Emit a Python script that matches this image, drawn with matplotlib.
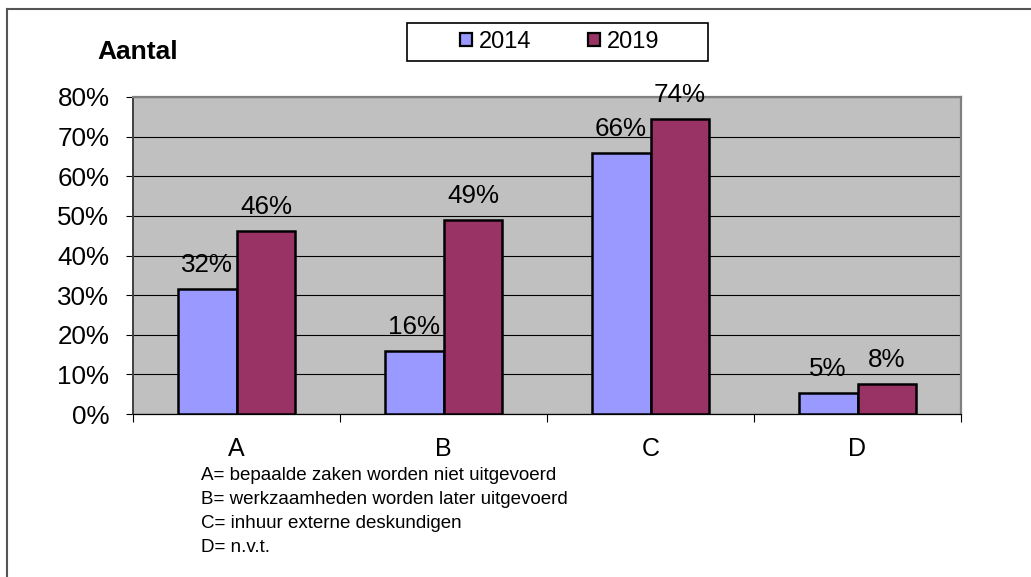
import matplotlib
matplotlib.use("Agg")
import matplotlib.pyplot as plt
from matplotlib.patches import Rectangle
from matplotlib.lines import Line2D
from matplotlib.ticker import FixedLocator, FuncFormatter

plt.rcParams['font.family'] = ['Liberation Sans', 'DejaVu Sans']

categories = ["A", "B", "C", "D"]
series_names = ["2014", "2019"]
values_2014 = [31.6, 15.9, 65.9, 5.3]
values_2019 = [46.2, 49.0, 74.5, 7.6]
labels_2014 = ["32%", "16%", "66%", "5%"]
labels_2019 = ["46%", "49%", "74%", "8%"]
yticks = [0, 10, 20, 30, 40, 50, 60, 70, 80]
footnotes = [
    "A= bepaalde zaken worden niet uitgevoerd",
    "B= werkzaamheden worden later uitgevoerd",
    "C= inhuur externe deskundigen",
    "D= n.v.t.",
]
title = "Aantal"

W, H = 1031, 577
fig = plt.figure(figsize=(W / 100, H / 100), dpi=100)
fig.patch.set_facecolor("white")

ax = fig.add_axes([133 / W, 1 - 414 / H, (961 - 133) / W, (414 - 97) / H])
ax.set_facecolor("#C0C0C0")

c2014 = "#9999FF"
c2019 = "#993366"
bw = 0.285
xs = list(range(len(categories)))
b1 = ax.bar([x - bw / 2 for x in xs], values_2014, width=bw, color=c2014,
            edgecolor="black", linewidth=1.8, zorder=3)
b2 = ax.bar([x + bw / 2 for x in xs], values_2019, width=bw, color=c2019,
            edgecolor="black", linewidth=1.8, zorder=3)

for bars, labs in ((b1, labels_2014), (b2, labels_2019)):
    for rect, lab in zip(bars, labs):
        ax.annotate(lab, (rect.get_x() + rect.get_width() / 2, rect.get_height()),
                    xytext=(0, 12.3), textcoords="offset points",
                    ha="center", va="baseline", fontsize=18.7, color="black",
                    annotation_clip=False, zorder=5)

ax.set_xlim(-0.5, len(categories) - 0.5)
ax.set_ylim(0, 80)

ax.yaxis.set_major_locator(FixedLocator(yticks))
ax.yaxis.set_major_formatter(FuncFormatter(lambda v, p: f"{int(v)}%"))
ax.grid(axis="y", color="black", linewidth=0.8, zorder=1)
ax.tick_params(axis="y", length=5, width=0.8, direction="out", pad=12,
               labelsize=18.7, colors="black")

bounds = [i - 0.5 for i in range(len(categories) + 1)]
ax.set_xticks(bounds)
ax.set_xticklabels([""] * len(bounds))
ax.set_xticks(xs, minor=True)
ax.set_xticklabels(categories, minor=True)
ax.tick_params(axis="x", which="major", length=6, width=0.8, colors="black")
ax.tick_params(axis="x", which="minor", length=0, pad=16.5, labelsize=18)

for side in ("top", "right"):
    ax.spines[side].set_color("#808080")
    ax.spines[side].set_linewidth(1.6)
ax.spines["left"].set_color("#404040")
ax.spines["left"].set_linewidth(1.4)
ax.spines["bottom"].set_color("black")
ax.spines["bottom"].set_linewidth(0.9)

# title
fig.text(97 / W, 1 - 59 / H, title, fontsize=19, fontweight="bold",
         ha="left", va="baseline")

# legend box
fig.patches.append(Rectangle((407 / W, 1 - 61 / H), (708 - 407) / W, (61 - 23) / H,
                             transform=fig.transFigure, facecolor="white",
                             edgecolor="black", linewidth=1.2, zorder=1))
handles = [Rectangle((0, 0), 1, 1, facecolor=c2014, edgecolor="black", linewidth=1.6),
           Rectangle((0, 0), 1, 1, facecolor=c2019, edgecolor="black", linewidth=1.6)]
leg = fig.legend(handles, series_names, loc="center", bbox_to_anchor=(560 / W, 1 - 42 / H),
                 ncol=2, frameon=False, fontsize=17, handlelength=0.5,
                 handleheight=0.5, handletextpad=0.3, columnspacing=2.4)

# footnotes
for i, line in enumerate(footnotes):
    fig.text(201 / W, 1 - (475 + 24.3 * i) / H, line, fontsize=13.5,
             ha="left", va="center")

# outer border (top and left)
fig.lines.append(Line2D([7 / W, 1], [1 - 9 / H, 1 - 9 / H], transform=fig.transFigure,
                        color="#555555", linewidth=1.5))
fig.lines.append(Line2D([7 / W, 7 / W], [0, 1 - 9 / H], transform=fig.transFigure,
                        color="#555555", linewidth=1.5))

fig.savefig("out.png", dpi=100)
